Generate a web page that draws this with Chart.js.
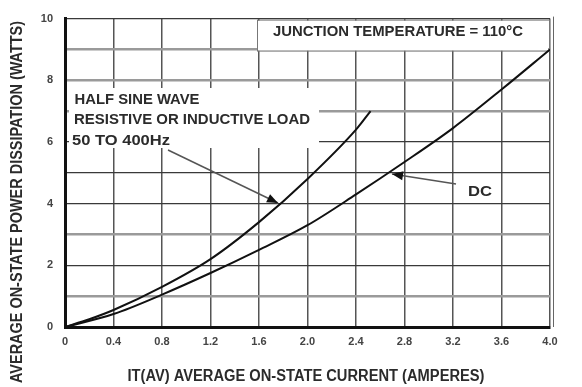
<!DOCTYPE html>
<html>
<head>
<meta charset="utf-8">
<script src="https://cdn.jsdelivr.net/npm/chart.js@4/dist/chart.umd.min.js"></script>
<style>
  html, body { margin: 0; padding: 0; background: #fff; }
  canvas { display: block; }
</style>
</head>
<body>
<canvas id="chart" width="582" height="387"></canvas>
<script>
// Half sine wave (resistive or inductive load, 50 to 400 Hz)
const sineCurrent = [0, 0.2, 0.4, 0.8, 1.2, 1.6, 2.0, 2.4, 2.52];
const sineWatts   = [0, 0.25, 0.55, 1.3, 2.2, 3.4, 4.8, 6.4, 7.0];

// DC operation
const dcCurrent = [0, 0.4, 0.8, 1.2, 1.6, 2.0, 2.4, 2.8, 3.2, 3.6, 4.0];
const dcWatts   = [0, 0.42, 1.05, 1.75, 2.5, 3.3, 4.3, 5.35, 6.45, 7.7, 9.0];

const xTickLabels = ['0', '0.4', '0.8', '1.2', '1.6', '2.0', '2.4', '2.8', '3.2', '3.6', '4.0'];
const yTickLabels = ['0', '', '2', '', '4', '', '6', '', '8', '', '10'];

const toPoints = (xs, ys) => xs.map((x, i) => ({ x, y: ys[i] }));

// Draws text stretched/squeezed horizontally to a given width
function fitText(ctx, text, cx, cy, width, font, color, angle) {
  ctx.save();
  ctx.font = font;
  ctx.fillStyle = color;
  ctx.textAlign = 'center';
  ctx.textBaseline = 'middle';
  const m = ctx.measureText(text).width;
  ctx.translate(cx, cy);
  if (angle) ctx.rotate(angle);
  ctx.scale(width / m, 1);
  ctx.fillText(text, 0, 0);
  ctx.restore();
}

function arrow(ctx, x1, y1, x2, y2) {
  ctx.save();
  ctx.strokeStyle = '#555';
  ctx.lineWidth = 1.5;
  ctx.beginPath();
  ctx.moveTo(x1, y1);
  ctx.lineTo(x2, y2);
  ctx.stroke();
  const a = Math.atan2(y2 - y1, x2 - x1);
  const L = 11, W = 4.5;
  ctx.fillStyle = '#111';
  ctx.beginPath();
  ctx.moveTo(x2, y2);
  ctx.lineTo(x2 - L * Math.cos(a) + W * Math.sin(a), y2 - L * Math.sin(a) - W * Math.cos(a));
  ctx.lineTo(x2 - L * Math.cos(a) - W * Math.sin(a), y2 - L * Math.sin(a) + W * Math.cos(a));
  ctx.closePath();
  ctx.fill();
  ctx.restore();
}

const labelsPlugin = {
  id: 'chartLabels',
  beforeDatasetsDraw(chart) {
    const ctx = chart.ctx;
    const { left, right, top } = chart.chartArea;
    ctx.save();
    ctx.fillStyle = '#fff';
    // junction temperature box
    ctx.fillRect(258, top + 2, right - 258 - 2, 30);
    ctx.strokeStyle = '#777';
    ctx.lineWidth = 1;
    ctx.strokeRect(257.5, top + 1.5, right - 258, 31);
    // waveform note backdrop
    ctx.fillRect(left + 4, 88, 250, 60);
    ctx.restore();
  },
  afterDatasetsDraw(chart) {
    const ctx = chart.ctx;
    const font = 'bold 15px "Liberation Sans", Arial, sans-serif';
    const color = '#2b2b2b';
    fitText(ctx, 'JUNCTION TEMPERATURE = 110\u00B0C', 398, 32, 250, font, color);
    fitText(ctx, 'HALF SINE WAVE', 137, 100, 125, font, color);
    fitText(ctx, 'RESISTIVE OR INDUCTIVE LOAD', 192, 120, 236, font, color);
    fitText(ctx, '50 TO 400Hz', 121, 141, 98, font, color);
    fitText(ctx, 'DC', 480, 192, 24, font, color);
    arrow(ctx, 168, 150, 278, 203);
    arrow(ctx, 456, 184, 392, 174);
  },
  afterDraw(chart) {
    const ctx = chart.ctx;
    const { right, top, bottom } = chart.chartArea;
    ctx.save();
    ctx.strokeStyle = '#666';
    ctx.lineWidth = 1;
    ctx.beginPath();
    ctx.moveTo(right + 3.5, top - 2);
    ctx.lineTo(right + 3.5, bottom);
    ctx.stroke();
    ctx.restore();
    const font = 'bold 16px "Liberation Sans", Arial, sans-serif';
    fitText(ctx, 'AVERAGE ON-STATE POWER DISSIPATION (WATTS)', 18, 202, 362, font, '#2b2b2b', -Math.PI / 2);
    fitText(ctx, 'IT(AV) AVERAGE ON-STATE CURRENT (AMPERES)', 306, 377, 357, font, '#2b2b2b');
  }
};

const lightRows = [1, 3, 7, 8, 9];

new Chart(document.getElementById('chart'), {
  type: 'line',
  data: {
    datasets: [
      {
        label: 'Half sine wave',
        data: toPoints(sineCurrent, sineWatts),
        borderColor: '#111',
        borderWidth: 2,
        pointRadius: 0,
        cubicInterpolationMode: 'monotone',
        fill: false
      },
      {
        label: 'DC',
        data: toPoints(dcCurrent, dcWatts),
        borderColor: '#111',
        borderWidth: 2,
        pointRadius: 0,
        cubicInterpolationMode: 'monotone',
        fill: false
      }
    ]
  },
  options: {
    responsive: false,
    animation: false,
    devicePixelRatio: 1,
    layout: { padding: { top: 14, right: 32, left: 0, bottom: 0 } },
    plugins: {
      legend: { display: false },
      tooltip: { enabled: false },
      title: { display: false }
    },
    scales: {
      x: {
        type: 'linear',
        min: 0,
        max: 4,
        afterFit(scale) { scale.height = 60; },
        border: { display: true, color: '#111', width: 3 },
        grid: {
          color: '#555',
          lineWidth: 1.5,
          drawTicks: false
        },
        ticks: {
          stepSize: 0.4,
          padding: 8,
          color: '#444',
          font: { family: '"Liberation Sans", Arial, sans-serif', size: 11, weight: 'bold' },
          callback: (v, i) => xTickLabels[i] ?? ''
        }
      },
      y: {
        type: 'linear',
        min: 0,
        max: 10,
        afterFit(scale) { scale.width = 65; },
        border: { display: true, color: '#111', width: 3 },
        grid: {
          color: c => lightRows.includes(c.tick && c.tick.value) ? '#9a9a9a' : '#3a3a3a',
          lineWidth: c => lightRows.includes(c.tick && c.tick.value) ? 2.5 : 1.2,
          drawTicks: false
        },
        ticks: {
          stepSize: 1,
          padding: 12,
          color: '#444',
          font: { family: '"Liberation Sans", Arial, sans-serif', size: 11, weight: 'bold' },
          autoSkip: false,
          callback: (v, i) => yTickLabels[i] ?? ''
        }
      }
    }
  },
  plugins: [labelsPlugin]
});
</script>
</body>
</html>
